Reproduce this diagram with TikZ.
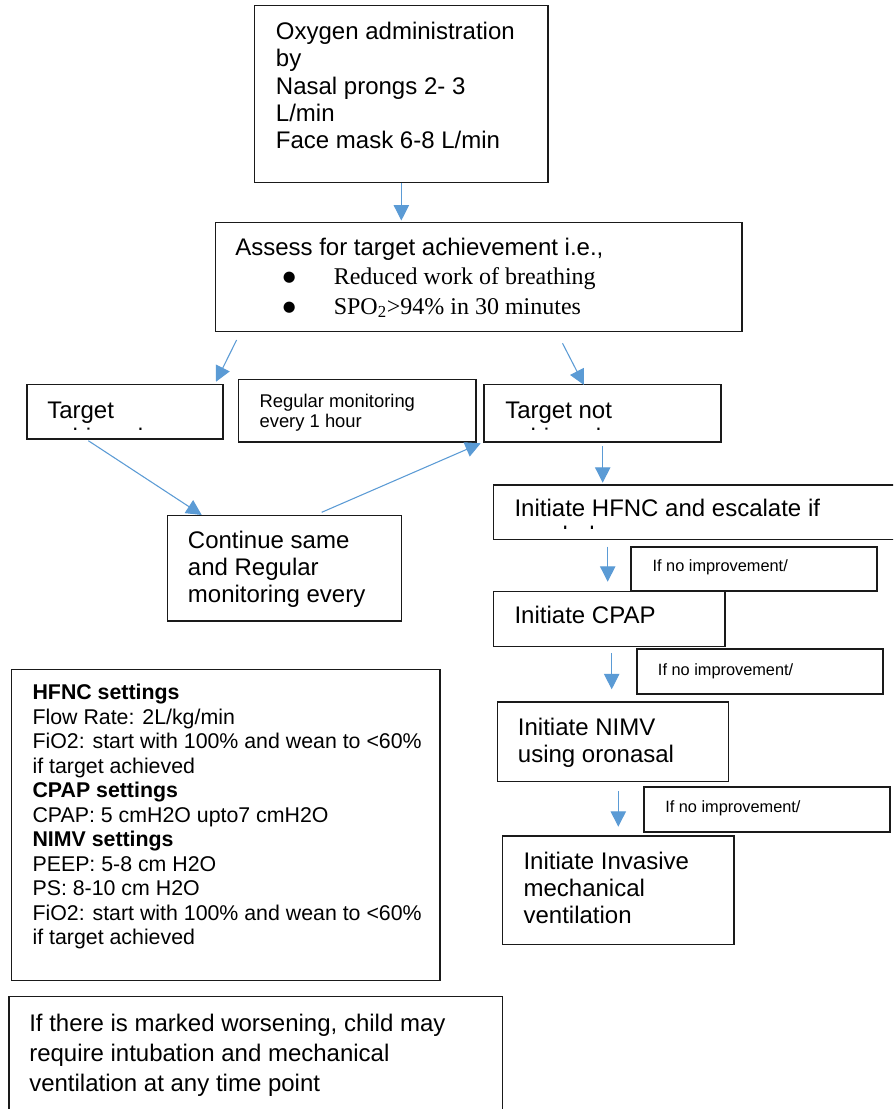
\documentclass[tikz,border=0pt]{standalone}
\usepackage{fontspec}
\setmainfont{Liberation Sans}
\newfontfamily\timesf{Liberation Serif}
\newfontfamily\dejavu{DejaVu Sans}
\usetikzlibrary{arrows.meta,fit}
\definecolor{arrowblue}{HTML}{5B9BD5}
\definecolor{boxline}{HTML}{1A1A1A}
\begin{document}
\begin{tikzpicture}[x=0.75pt,y=-0.75pt,
  box/.style={draw=boxline,line width=1pt,inner sep=0pt},
  sbox/.style={draw=boxline,line width=1.6pt,inner sep=0pt},
  bigml/.style={font=\fontsize{18}{20.5}\selectfont,anchor=north west,inner sep=0pt,align=left},
  bigs/.style={font=\fontsize{18}{20.5}\selectfont,anchor=base west,inner sep=0pt},
  midml/.style={font=\fontsize{13.8}{15.3}\selectfont,anchor=north west,inner sep=0pt,align=left},
  smallt/.style={font=\fontsize{12.25}{14}\selectfont,anchor=base west,inner sep=0pt},
  serift/.style={font=\timesf\fontsize{18}{20.5}\selectfont,anchor=base west,inner sep=0pt},
  bult/.style={font=\dejavu\fontsize{11}{13}\selectfont,anchor=base,inner sep=0pt},
  setml/.style={font=\fontsize{16}{18.4}\selectfont,anchor=north west,inner sep=0pt,align=left},
  botml/.style={font=\fontsize{18}{22.5}\selectfont,anchor=north west,inner sep=0pt,align=left},
  arr/.style={draw=arrowblue,color=arrowblue,line width=0.8pt,-{Triangle[length=11.5pt,width=11.5pt]}}
]
\useasboundingbox (0,0) rectangle (893,1109);
\fill[white] (0,0) rectangle (893,1109);
\clip (0,0) rectangle (893,1109);

% boxes
\node[box, fit={(254.7,5.7)(548,182.7)}] (oxy) {};
\node[box, fit={(215.7,222.3)(742,331.7)}] (assess) {};
\node[box, fit={(27,384.3)(223,439)}] (tach) {};
\node[box, fit={(238.5,379.5)(476,442)}] (regmon) {};
\node[box, fit={(484,384.3)(721,442)}] (tnot) {};
\node[box, fit={(167.3,515.7)(401.7,621)}] (cont) {};
\node[box, fit={(493.3,485)(900,539.3)}] (hfnc) {};
\node[sbox, fit={(631,546.7)(876.7,590.7)}] (ni1) {};
\node[box, fit={(493.3,591.7)(725,646.5)}] (cpap) {};
\node[sbox, fit={(636.7,649.3)(882.7,694)}] (ni2) {};
\node[box, fit={(497.3,702)(728.3,781.3)}] (nimv) {};
\node[sbox, fit={(644,786.7)(890,832)}] (ni3) {};
\node[box, fit={(502.7,836)(734,944.7)}] (inv) {};
\node[box, fit={(11.7,669.3)(440,980.5)}] (settings) {};
\node[box, fit={(9,996.7)(502.7,1125)}] (worse) {};

% texts
\node[bigml] (oxyt) at (275.7,20.2) {\strut Oxygen administration\\by\\Nasal prongs 2- 3\\L/min\\Face mask 6-8 L/min};
\node[bigs] (asst) at (235,255) {Assess for target achievement i.e.,};
\node[bult] (bul1) at (289.3,281.7) {●};
\node[serift] (crit1) at (333.5,284) {Reduced work of breathing};
\node[bult] (bul2) at (289.3,311.7) {●};
\node[serift] (crit2) at (333.5,314) {SPO\textsubscript{2}>94\% in 30 minutes};

\begin{scope}
\clip (28,385) rectangle (222,429.5);
\node[bigml] (tacht) at (47,398.6) {\strut Target\\achieved};
\end{scope}
\node[midml] (regmont) at (259.3,393) {\strut Regular monitoring\\every 1 hour};
\begin{scope}
\clip (485,385) rectangle (720,429.5);
\node[bigml] (tnott) at (505,398.6) {\strut Target not\\achieved};
\end{scope}
\begin{scope}
\clip (168,516) rectangle (401,613);
\node[bigml] (contt) at (187.7,528.6) {\strut Continue same\\and Regular\\monitoring every};
\end{scope}
\begin{scope}
\clip (494,486) rectangle (893,528);
\node[bigml] (hfnct) at (514.3,496.9) {\strut Initiate HFNC and escalate if\\needed};
\end{scope}
\node[smallt] (ni1t) at (652.3,571.7) {If no improvement/};
\node[bigs] (cpapt) at (514.3,623.3) {Initiate CPAP};
\node[smallt] (ni2t) at (657.7,675) {If no improvement/};
\node[bigml] (nimvt) at (517.7,715.9) {\strut Initiate NIMV\\using oronasal};
\node[smallt] (ni3t) at (665,812.7) {If no improvement/};
\node[bigml] (invt) at (523.3,849.6) {\strut Initiate Invasive\\mechanical\\ventilation};

\node[setml] (sett) at (32.3,682.1) {\strut\textbf{HFNC settings}\\Flow Rate: 2L/kg/min\\FiO2: start with 100\% and wean to <60\%\\if target achieved\\\textbf{CPAP settings}\\CPAP: 5 cmH2O upto7 cmH2O\\\textbf{NIMV settings}\\PEEP: 5-8 cm H2O\\PS: 8-10 cm H2O\\FiO2: start with 100\% and wean to <60\%\\if target achieved};
\node[botml] (worset) at (29,1010.7) {\strut If there is marked worsening, child may\\require intubation and mechanical\\ventilation at any time point};

% connector coordinates
\coordinate (a1e) at (401.35,220.5);
\coordinate (a2s) at (236.6,340);
\coordinate (a2e) at (216,381.7);
\coordinate (a3s) at (562.5,343.3);
\coordinate (a3e) at (584,385);
\coordinate (a4s) at (88.3,440.7);
\coordinate (a4e) at (201.7,515);
\coordinate (a5s) at (321.7,512.3);
\coordinate (a5e) at (480.7,443.3);
\coordinate (a6s) at (602.7,446);
\coordinate (a6e) at (602.7,482.7);
\coordinate (a7s) at (607.7,546.7);
\coordinate (a7e) at (607.7,581.7);
\coordinate (a8s) at (611.7,653.3);
\coordinate (a8e) at (611.7,689.3);
\coordinate (a9s) at (618.3,791);
\coordinate (a9e) at (618.3,826.7);

\draw[arr] (oxy.south) -- (a1e);
\draw[arr] (a2s) -- (a2e);
\draw[arr] (a3s) -- (a3e);
\draw[arr] (a4s) -- (a4e);
\draw[arr] (a5s) -- (a5e);
\draw[arr] (a6s) -- (a6e);
\draw[arr] (a7s) -- (a7e);
\draw[arr] (a8s) -- (a8e);
\draw[arr] (a9s) -- (a9e);
\end{tikzpicture}
\end{document}
